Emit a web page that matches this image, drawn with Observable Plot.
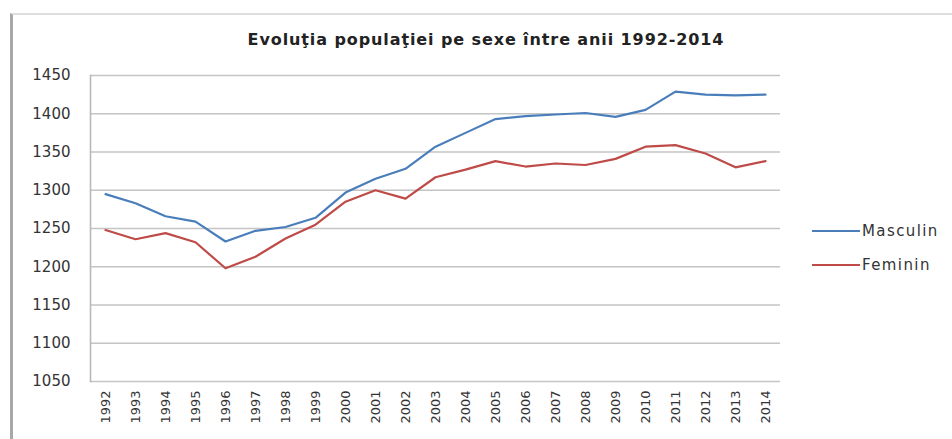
<!DOCTYPE html>
<html>
<head>
<meta charset="utf-8">
<script src="https://cdn.jsdelivr.net/npm/d3@7"></script>
<script src="https://cdn.jsdelivr.net/npm/@observablehq/plot@0.6"></script>
<style>
  html, body { margin: 0; padding: 0; background: #fff; }
  #wrap { position: relative; width: 952px; height: 439px; overflow: hidden; font-family: "DejaVu Sans", sans-serif; }
  #frame { position: absolute; left: 10px; top: 13px; width: 960px; height: 440px; border-left: 3px solid #a8a8a8; border-top: 2px solid #dedede; box-sizing: border-box; }
  #title { position: absolute; left: 0; width: 972px; top: 30px; text-align: center; font: bold 16px "DejaVu Sans", sans-serif; letter-spacing: 0.9px; color: #222; }
  #legend { position: absolute; left: 812px; top: 220px; font: 15px "DejaVu Sans", sans-serif; color: #333; letter-spacing: 1.4px; }
  .item { display: flex; align-items: center; height: 21px; margin-bottom: 13px; }
  .item svg { margin-right: 2px; }
  #chart { position: absolute; left: 0; top: 0; }
</style>
</head>
<body>
<div id="wrap">
  <div id="frame"></div>
  <div id="chart"></div>
  <div id="title"></div>
  <div id="legend"></div>
</div>
<script>
const years = ["1992","1993","1994","1995","1996","1997","1998","1999","2000","2001","2002","2003","2004","2005","2006","2007","2008","2009","2010","2011","2012","2013","2014"];
const masculin = [1295,1283,1266,1259,1233,1247,1252,1264,1297,1315,1328,1357,1375,1393,1397,1399,1401,1396,1405,1429,1425,1424,1425];
const feminin  = [1248,1236,1244,1232,1198,1213,1237,1255,1285,1300,1289,1317,1327,1338,1331,1335,1333,1341,1357,1359,1348,1330,1338];
const yTicks = [1050,1100,1150,1200,1250,1300,1350,1400,1450];
const seriesNames = ["Masculin", "Feminin"];
const seriesColors = ["#4a7ebb", "#be4b48"];
const titleText = "Evoluţia populaţiei pe sexe între anii 1992-2014";

const rows = [];
years.forEach((yr, i) => {
  rows.push({year: yr, value: masculin[i], serie: seriesNames[0]});
  rows.push({year: yr, value: feminin[i], serie: seriesNames[1]});
});

const chart = Plot.plot({
  width: 952,
  height: 439,
  marginLeft: 90,
  marginRight: 172,
  marginTop: 75,
  marginBottom: 58,
  style: {fontFamily: "DejaVu Sans, sans-serif", background: "transparent", overflow: "visible"},
  x: {type: "point", domain: years, padding: 0.5, label: null},
  y: {domain: [1050, 1450], label: null},
  color: {domain: seriesNames, range: seriesColors},
  marks: [
    Plot.gridY(yTicks, {stroke: "#c4c4c4", strokeOpacity: 1, strokeWidth: 1.6}),
    Plot.frame({anchor: "left", stroke: "#b8b8b8", strokeWidth: 1.6}),
    Plot.axisY(yTicks, {tickSize: 0, tickPadding: 20, tickFormat: d => String(d), fontSize: 15, fill: "#333", style: {letterSpacing: "1.6px"}}),
    Plot.axisX({tickSize: 0, tickPadding: 9, tickRotate: -90, fontSize: 13, fill: "#333"}),
    Plot.line(rows, {x: "year", y: "value", z: "serie", stroke: "serie", strokeWidth: 2.2, strokeLinejoin: "round"})
  ]
});
document.getElementById("chart").appendChild(chart);
document.getElementById("title").textContent = titleText;

const legend = document.getElementById("legend");
seriesNames.forEach((name, i) => {
  const item = document.createElement("div");
  item.className = "item";
  item.innerHTML = `<svg width="48" height="6"><line x1="0" y1="3" x2="48" y2="3" stroke="${seriesColors[i]}" stroke-width="2"/></svg><span>${name}</span>`;
  legend.appendChild(item);
});
</script>
</body>
</html>
